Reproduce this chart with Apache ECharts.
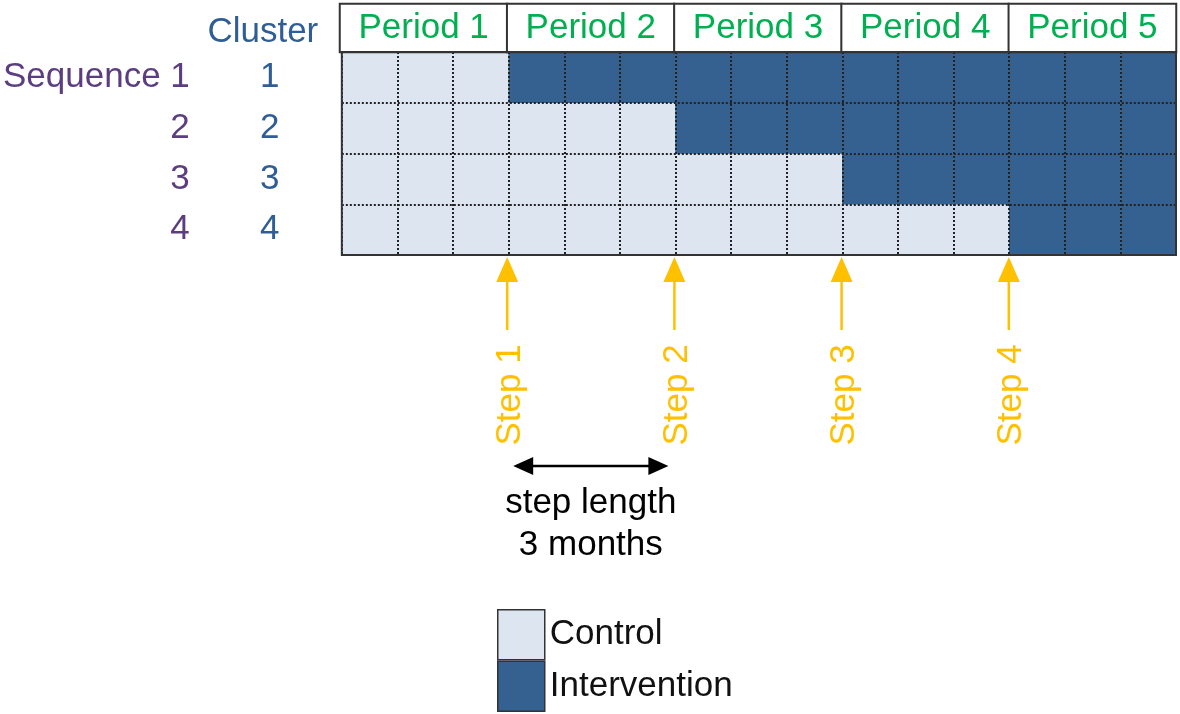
<!DOCTYPE html>
<html>
<head>
<meta charset="utf-8">
<script src="https://cdn.jsdelivr.net/npm/echarts@6/dist/echarts.min.js"></script>
<style>
html, body { margin: 0; padding: 0; background: #fff; }
#chart { width: 1180px; height: 714px; }
</style>
</head>
<body>
<div id="chart"></div>
<script>
// stepped wedge layout: 5 periods of 3 months, 4 sequences with one cluster each
const periods = ['Period 1', 'Period 2', 'Period 3', 'Period 4', 'Period 5'];
const months = ['1', '2', '3', '4', '5', '6', '7', '8', '9', '10', '11', '12', '13', '14', '15'];
const sequences = ['1', '2', '3', '4'];
const clusters = ['1', '2', '3', '4'];
// month index at which each sequence crosses over to intervention
const switchMonth = [3, 6, 9, 12];
const steps = ['Step 1', 'Step 2', 'Step 3', 'Step 4'];
const stepSpan = [3, 6];
const stepText = 'step length\n3 months';

const FONT = '"Liberation Sans", Arial, sans-serif';
const GREEN = '#00b050';
const GOLD = '#ffc000';
const PURPLE = '#5c3e80';
const BLUE = '#2f5d96';
const LIGHT = '#dce5f0';
const DARK = '#34618f';

const controlCells = [];
const interventionCells = [];
sequences.forEach(function (s, r) {
    months.forEach(function (m, c) {
        if (c < switchMonth[r]) {
            controlCells.push([c, r, 1]);
        } else {
            interventionCells.push([c, r, 1]);
        }
    });
});
const headerCells = periods.map(function (p, i) { return [i, 0, 1]; });

const chart = echarts.init(document.getElementById('chart'));

const option = {
    animation: false,
    textStyle: { fontFamily: FONT },
    grid: [
        { left: 340, right: 4, top: 52, height: 203, show: true, borderColor: '#333', borderWidth: 2, z: 6 },
        { left: 340, right: 4, top: 4, height: 48 },
        { left: 340, right: 4, top: 255, height: 345 }
    ],
    legend: {
        data: ['Control', 'Intervention'],
        orient: 'vertical',
        left: 497,
        top: 609,
        padding: 0,
        itemWidth: 47,
        itemHeight: 50,
        itemGap: 0,
        icon: 'rect',
        selectedMode: false,
        itemStyle: { borderColor: '#333', borderWidth: 1.5 },
        textStyle: { fontSize: 35, color: '#111', fontFamily: FONT, padding: [4, 0, 0, 0] }
    },
    xAxis: [
        {
            gridIndex: 0, type: 'category', data: months, z: 4,
            axisLine: { show: false }, axisTick: { show: false }, axisLabel: { show: false },
            splitLine: { show: true, interval: 0, lineStyle: { type: 'dotted', color: '#222', width: 2 } }
        },
        { gridIndex: 1, type: 'category', data: periods, show: false },
        { gridIndex: 2, type: 'value', min: 0, max: 15, show: false }
    ],
    yAxis: [
        {
            gridIndex: 0, type: 'category', data: sequences, inverse: true, z: 4,
            axisLine: { show: false }, axisTick: { show: false },
            axisLabel: {
                margin: 152, align: 'right', color: PURPLE, fontSize: 35, fontFamily: FONT,
                padding: [12, 0, 0, 0],
                formatter: function (v, i) { return i === 0 ? 'Sequence ' + v : v; }
            },
            splitLine: { show: true, interval: 0, lineStyle: { type: 'dotted', color: '#222', width: 2 } }
        },
        {
            gridIndex: 0, type: 'category', data: clusters, inverse: true, position: 'left', offset: 72,
            axisLine: { show: false }, axisTick: { show: false }, splitLine: { show: false },
            axisLabel: { margin: 0, align: 'center', color: BLUE, fontSize: 35, fontFamily: FONT, padding: [12, 0, 0, 0] },
            name: 'Cluster', nameLocation: 'start', nameGap: 2,
            nameTextStyle: { color: BLUE, fontSize: 35, fontFamily: FONT, padding: [0, 14, 0, 0] }
        },
        { gridIndex: 1, type: 'category', data: ['header'], show: false },
        { gridIndex: 2, type: 'value', min: 0, max: 345, inverse: true, show: false }
    ],
    series: [
        {
            name: 'Control', type: 'heatmap', xAxisIndex: 0, yAxisIndex: 0,
            data: controlCells, itemStyle: { color: LIGHT }, emphasis: { disabled: true }
        },
        {
            name: 'Intervention', type: 'heatmap', xAxisIndex: 0, yAxisIndex: 0,
            data: interventionCells, itemStyle: { color: DARK }, emphasis: { disabled: true }
        },
        {
            name: 'Periods', type: 'heatmap', xAxisIndex: 1, yAxisIndex: 2,
            data: headerCells,
            itemStyle: { color: '#fff', borderColor: '#333', borderWidth: 2 },
            emphasis: { disabled: true },
            label: {
                show: true, color: GREEN, fontSize: 35, fontFamily: FONT, padding: [4, 0, 0, 0],
                formatter: function (p) { return periods[p.data[0]]; }
            }
        },
        {
            name: 'Steps', type: 'custom', xAxisIndex: 2, yAxisIndex: 3,
            data: switchMonth.map(function (m, i) { return [m, i]; }),
            renderItem: function (params, api) {
                const tip = api.coord([api.value(0), 2]);
                const base = api.coord([api.value(0), 27]);
                const tail = api.coord([api.value(0), 75]);
                const mid = api.coord([api.value(0), 140]);
                return {
                    type: 'group',
                    children: [
                        { type: 'line', shape: { x1: tail[0], y1: tail[1], x2: base[0], y2: base[1] },
                          style: { stroke: GOLD, lineWidth: 2.5 } },
                        { type: 'polygon', shape: { points: [tip, [base[0] - 11, base[1]], [base[0] + 11, base[1]]] },
                          style: { fill: GOLD } },
                        { type: 'text', x: mid[0] + 3, y: mid[1], rotation: Math.PI / 2,
                          style: { text: steps[api.value(1)], fill: GOLD, fontSize: 35, fontFamily: FONT,
                                   align: 'center', verticalAlign: 'middle' } }
                    ]
                };
            }
        },
        {
            name: 'StepLength', type: 'custom', xAxisIndex: 2, yAxisIndex: 3,
            data: [stepSpan],
            renderItem: function (params, api) {
                const a = api.coord([api.value(0), 211]);
                const b = api.coord([api.value(1), 211]);
                const t = api.coord([(api.value(0) + api.value(1)) / 2, 269]);
                const x1 = a[0] + 6, x2 = b[0] - 6, y = a[1];
                return {
                    type: 'group',
                    children: [
                        { type: 'line', shape: { x1: x1 + 18, y1: y, x2: x2 - 18, y2: y },
                          style: { stroke: '#000', lineWidth: 2.5 } },
                        { type: 'polygon', shape: { points: [[x1, y], [x1 + 20, y - 9], [x1 + 20, y + 9]] },
                          style: { fill: '#000' } },
                        { type: 'polygon', shape: { points: [[x2, y], [x2 - 20, y - 9], [x2 - 20, y + 9]] },
                          style: { fill: '#000' } },
                        { type: 'text', x: t[0], y: t[1],
                          style: { text: stepText, fill: '#000', fontSize: 35, fontFamily: FONT, lineHeight: 42,
                                   align: 'center', verticalAlign: 'middle' } }
                    ]
                };
            }
        }
    ]
};

chart.setOption(option);
</script>
</body>
</html>
